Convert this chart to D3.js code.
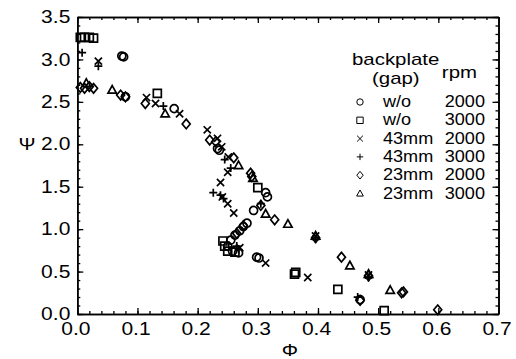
<!DOCTYPE html>
<html>
<head>
<meta charset="utf-8">
<script src="https://cdn.jsdelivr.net/npm/d3@7"></script>
<style>
  body { margin: 0; background: #fff; }
  text { font-family: "Liberation Sans", Arial, Helvetica, sans-serif; fill: #000; }
</style>
</head>
<body>
<svg id="chart" width="516" height="359"></svg>
<script>
// Axis ticks
const xTicks = [0, 0.1, 0.2, 0.3, 0.4, 0.5, 0.6, 0.7];
const yTicks = [0, 0.5, 1.0, 1.5, 2.0, 2.5, 3.0, 3.5];

// Legend rows: backplate gap, rotor speed, marker shape
const gapLabels = ["w/o", "w/o", "43mm", "43mm", "23mm", "23mm"];
const rpmLabels = ["2000", "3000", "2000", "3000", "2000", "3000"];
const shapes = ["circle", "square", "times", "plus", "diamond", "triangle"];

// Measured points [Φ, Ψ] per configuration
const wo2000 = [[0.074, 3.04], [0.077, 3.03], [0.08, 2.56], [0.161, 2.42], [0.233, 1.95],
  [0.236, 1.93], [0.313, 1.43], [0.316, 1.38], [0.293, 1.22], [0.282, 1.07], [0.276, 1.03],
  [0.27, 0.98], [0.262, 0.93], [0.255, 0.87], [0.25, 0.8], [0.258, 0.74], [0.268, 0.72],
  [0.298, 0.67], [0.302, 0.66], [0.47, 0.17]];
const wo3000 = [[0.005, 3.26], [0.012, 3.26], [0.02, 3.26], [0.027, 3.25], [0.133, 2.6],
  [0.3, 1.49], [0.242, 0.86], [0.245, 0.8], [0.25, 0.74], [0.262, 0.73], [0.361, 0.47],
  [0.363, 0.49], [0.433, 0.29], [0.51, 0.04]];
const mm43rpm2000 = [[0.035, 2.98], [0.115, 2.55], [0.13, 2.48], [0.17, 2.36], [0.216, 2.17],
  [0.233, 2.07], [0.24, 1.97], [0.251, 1.85], [0.25, 1.67], [0.238, 1.55], [0.241, 1.38],
  [0.25, 1.3], [0.26, 1.19], [0.27, 0.78], [0.313, 0.6], [0.383, 0.43], [0.396, 0.92],
  [0.484, 0.46]];
const mm43rpm3000 = [[0.008, 3.08], [0.035, 2.92], [0.143, 2.45], [0.245, 1.82], [0.255, 1.72],
  [0.226, 1.43], [0.238, 1.4], [0.243, 1.36], [0.305, 1.3], [0.265, 0.8], [0.268, 0.76],
  [0.396, 0.88], [0.484, 0.43], [0.466, 0.2]];
const mm23rpm2000 = [[0.005, 2.67], [0.012, 2.66], [0.02, 2.68], [0.027, 2.66], [0.072, 2.58],
  [0.08, 2.56], [0.113, 2.48], [0.181, 2.24], [0.22, 2.05], [0.23, 2.03], [0.26, 1.84],
  [0.288, 1.66], [0.29, 1.62], [0.305, 1.28], [0.328, 1.11], [0.276, 1.04], [0.265, 0.95],
  [0.396, 0.9], [0.439, 0.67], [0.484, 0.45], [0.539, 0.25], [0.542, 0.26], [0.599, 0.05],
  [0.47, 0.16]];
const mm23rpm3000 = [[0.015, 2.72], [0.058, 2.64], [0.146, 2.36], [0.268, 1.75], [0.292, 1.6],
  [0.313, 1.18], [0.35, 1.06], [0.396, 0.92], [0.453, 0.57], [0.484, 0.47], [0.52, 0.28]];

const seriesData = [wo2000, wo3000, mm43rpm2000, mm43rpm3000, mm23rpm2000, mm23rpm3000];

const svg = d3.select("#chart");
const plotLeft = 77.3, plotRight = 498.5, plotTop = 17, plotBottom = 314;

const x = d3.scaleLinear().domain([0, 0.7]).range([plotLeft, plotRight]);
const y = d3.scaleLinear().domain([0, 3.5]).range([plotBottom, plotTop]);

// Lettering is set slightly wide
function widen(sel, factor = 1.2) {
  sel.each(function () {
    const w = this.getComputedTextLength();
    d3.select(this).attr("textLength", w * factor).attr("lengthAdjust", "spacingAndGlyphs");
  });
}

// Marker path for a given shape and half-size
function markerPath(shape, s) {
  const p = d3.path();
  switch (shape) {
    case "circle": p.moveTo(s, 0); p.arc(0, 0, s, 0, 2 * Math.PI); break;
    case "square": p.rect(-s, -s, 2 * s, 2 * s); break;
    case "times": { const t = s * 0.9; p.moveTo(-t, -t); p.lineTo(t, t); p.moveTo(-t, t); p.lineTo(t, -t); break; }
    case "plus": p.moveTo(-s, 0); p.lineTo(s, 0); p.moveTo(0, -s); p.lineTo(0, s); break;
    case "diamond": p.moveTo(0, -s * 1.2); p.lineTo(s, 0); p.lineTo(0, s * 1.2); p.lineTo(-s, 0); p.closePath(); break;
    case "triangle": p.moveTo(0, -s * 1.1); p.lineTo(s * 1.05, s * 0.8); p.lineTo(-s * 1.05, s * 0.8); p.closePath(); break;
  }
  return p.toString();
}

// Axes with inward ticks on all four sides
const fmt = d3.format(".1f");
const xMinor = d3.range(0, 0.7001, 0.02);
const yMinor = d3.range(0, 3.5001, 0.1);

function styleAxis(g) {
  g.selectAll("path.domain").attr("stroke", "#000").attr("stroke-width", 1.6);
  g.selectAll("line").attr("stroke", "#000").attr("stroke-width", 1.3);
  g.selectAll("text").attr("font-size", 17.5).attr("fill", "#000")
    .attr("font-family", "'Liberation Sans', Arial, Helvetica, sans-serif")
    .call(widen);
}

svg.append("g").attr("transform", `translate(0,${plotBottom})`)
  .call(d3.axisBottom(x).tickValues(xMinor).tickSize(-3).tickSizeOuter(0).tickFormat(""))
  .call(styleAxis);
svg.append("g").attr("transform", `translate(-2,${plotBottom})`)
  .call(d3.axisBottom(x).tickValues(xTicks).tickSize(0).tickSizeOuter(0).tickPadding(9).tickFormat(fmt))
  .call(styleAxis)
  .call(g => g.select(".domain").remove());
svg.append("g").attr("transform", `translate(0,${plotBottom})`)
  .call(d3.axisBottom(x).tickValues(xTicks).tickSize(-6).tickSizeOuter(0).tickFormat(""))
  .call(styleAxis);
svg.append("g").attr("transform", `translate(0,${plotTop})`)
  .call(d3.axisTop(x).tickValues(xMinor).tickSize(-3).tickSizeOuter(0).tickFormat(""))
  .call(styleAxis);
svg.append("g").attr("transform", `translate(0,${plotTop})`)
  .call(d3.axisTop(x).tickValues(xTicks).tickSize(-6).tickSizeOuter(0).tickFormat(""))
  .call(styleAxis);

svg.append("g").attr("transform", `translate(${plotLeft},0)`)
  .call(d3.axisLeft(y).tickValues(yMinor).tickSize(-3).tickSizeOuter(0).tickFormat(""))
  .call(styleAxis);
svg.append("g").attr("transform", `translate(${plotLeft},0)`)
  .call(d3.axisLeft(y).tickValues(yTicks).tickSize(-6).tickSizeOuter(0).tickPadding(7).tickFormat(fmt))
  .call(styleAxis);
svg.append("g").attr("transform", `translate(${plotRight},0)`)
  .call(d3.axisRight(y).tickValues(yMinor).tickSize(-3).tickSizeOuter(0).tickFormat(""))
  .call(styleAxis);
svg.append("g").attr("transform", `translate(${plotRight},0)`)
  .call(d3.axisRight(y).tickValues(yTicks).tickSize(-6).tickSizeOuter(0).tickFormat(""))
  .call(styleAxis);

// Axis titles
svg.append("text").attr("x", 27).attr("y", 150).attr("text-anchor", "middle")
  .attr("font-size", 17).text("Ψ").call(widen);
svg.append("text").attr("x", 290).attr("y", 356).attr("text-anchor", "middle")
  .attr("font-size", 17).text("Φ").call(widen);

// Data markers
const marks = svg.append("g");
seriesData.forEach((data, i) => {
  marks.selectAll(null).data(data).enter().append("path")
    .attr("transform", d => `translate(${x(d[0])},${y(d[1])})`)
    .attr("d", markerPath(shapes[i], 4))
    .attr("fill", "none").attr("stroke", "#000").attr("stroke-width", 1.7);
});

// Legend
const lg = svg.append("g");
lg.append("text").attr("x", 352).attr("y", 65).attr("font-size", 17).text("backplate").call(widen);
lg.append("text").attr("x", 372).attr("y", 84).attr("font-size", 17).text("(gap)").call(widen);
lg.append("text").attr("x", 477).attr("y", 78).attr("text-anchor", "end").attr("font-size", 17).text("rpm").call(widen);
const rowY = i => 107 + i * 18.3;
gapLabels.forEach((g, i) => {
  lg.append("path").attr("transform", `translate(360,${rowY(i) - 5})`)
    .attr("d", markerPath(shapes[i], 3.2))
    .attr("fill", "none").attr("stroke", "#000").attr("stroke-width", 1);
  lg.append("text").attr("x", 383).attr("y", rowY(i)).attr("font-size", 16).text(g).call(widen, 1.13);
  lg.append("text").attr("x", 485).attr("y", rowY(i)).attr("text-anchor", "end")
    .attr("font-size", 16).text(rpmLabels[i]).call(widen, 1.13);
});
</script>
</body>
</html>
